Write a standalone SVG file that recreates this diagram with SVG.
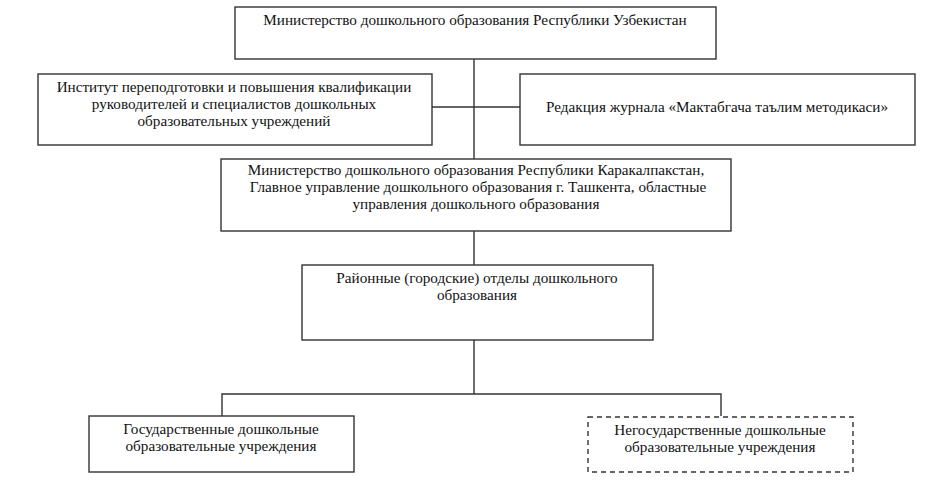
<svg xmlns="http://www.w3.org/2000/svg" width="948" height="497" viewBox="0 0 948 497">
<style>
.box{fill:#fff;stroke:#333;stroke-width:1.4}
.dash{stroke-dasharray:5,4}
.t{font-family:"Liberation Serif","DejaVu Serif",serif;font-size:15.2px;fill:#111;text-anchor:middle}
.c{fill:none;stroke:#333;stroke-width:1.4}
</style>
<rect width="948" height="497" fill="#fff"/>
<g id="connectors">
<path class="c" d="M474,59V265M432,107H520M474,340V394M222,416V394H721V416"/>
</g>
<g id="n1"><rect class="box" x="235" y="7" width="481" height="52"/>
<text class="t" x="475" y="25">Министерство дошкольного образования Республики Узбекистан</text></g>
<g id="n2"><rect class="box" x="38" y="74" width="394" height="71"/>
<text class="t" x="234" y="92">Институт переподготовки и повышения квалификации</text>
<text class="t" x="234" y="109">руководителей и специалистов дошкольных</text>
<text class="t" x="234" y="126">образовательных учреждений</text></g>
<g id="n3"><rect class="box" x="520" y="74" width="395" height="71"/>
<text class="t" x="717" y="112">Редакция журнала «Мактабгача таълим методикаси»</text></g>
<g id="n4"><rect class="box" x="221" y="159" width="510" height="72"/>
<text class="t" x="476" y="175">Министерство дошкольного образования Республики Каракалпакстан,</text>
<text class="t" x="478" y="192">Главное управление дошкольного образования г. Ташкента, областные</text>
<text class="t" x="476" y="209">управления дошкольного образования</text></g>
<g id="n5"><rect class="box" x="302" y="265" width="351" height="75"/>
<text class="t" x="477" y="283">Районные (городские) отделы дошкольного</text>
<text class="t" x="477" y="300">образования</text></g>
<g id="n6"><rect class="box" x="89" y="416" width="265" height="56"/>
<text class="t" x="221" y="434">Государственные дошкольные</text>
<text class="t" x="221" y="451">образовательные учреждения</text></g>
<g id="n7"><rect class="box dash" x="588" y="417" width="265" height="55"/>
<text class="t" x="720" y="435">Негосударственные дошкольные</text>
<text class="t" x="720" y="452">образовательные учреждения</text></g>
</svg>
